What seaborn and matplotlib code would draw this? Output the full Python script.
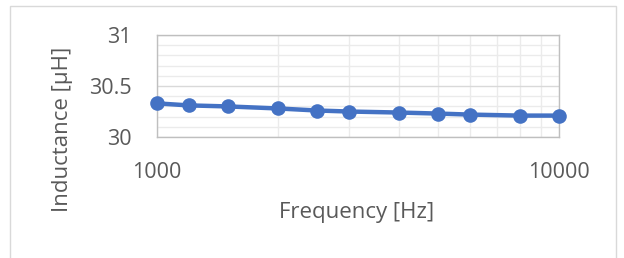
import numpy as np
import pandas as pd
import matplotlib
matplotlib.use("Agg")
import matplotlib.pyplot as plt
import seaborn as sns
from matplotlib.ticker import FixedLocator, NullFormatter
from matplotlib.patches import Rectangle

## Data
frequency = [1000, 1200, 1500, 2000, 2500, 3000, 4000, 5000, 6000, 8000, 10000]
inductance = [30.33, 30.31, 30.30, 30.28, 30.26, 30.25, 30.24, 30.23, 30.22, 30.21, 30.21]
x_ticks = [1000, 10000]
y_ticks = [30, 30.5, 31]

df = pd.DataFrame({"Frequency": frequency, "Inductance": inductance})

sns.set_style("white")
plt.rcParams['font.family'] = ['Open Sans', 'DejaVu Sans']
text_col = "#595959"

fig = plt.figure(figsize=(6.24, 2.58), dpi=100)
ax = fig.add_axes([0.2516, 0.469, 0.6442, 0.395])

sns.lineplot(data=df, x="Frequency", y="Inductance", ax=ax, color="#4472C4",
             linewidth=3.2, marker="o", markersize=10.5, markeredgewidth=0,
             zorder=5, clip_on=False)

ax.set_xscale("log")
ax.set_xlim(1000, 10000)
ax.set_ylim(30, 31)

ax.xaxis.set_major_locator(FixedLocator(x_ticks))
ax.xaxis.set_minor_locator(FixedLocator(np.arange(2000, 10000, 1000)))
ax.xaxis.set_minor_formatter(NullFormatter())
ax.set_xticklabels([str(t) for t in x_ticks])
ax.yaxis.set_major_locator(FixedLocator(y_ticks))
ax.yaxis.set_minor_locator(FixedLocator(np.arange(30.1, 31, 0.1)))
ax.set_yticklabels(["30", "30.5", "31"])

ax.grid(which="major", axis="y", color="#d9d9d9", linewidth=1.0)
ax.grid(which="minor", color="#ebebeb", linewidth=1.0)
ax.grid(which="major", axis="x", color="#ebebeb", linewidth=1.0)
ax.tick_params(axis="both", which="both", length=0, labelsize=15.5, labelcolor=text_col)
ax.tick_params(axis="x", pad=18)
ax.tick_params(axis="y", pad=18)

for s in ax.spines.values():
    s.set_color("#bfbfbf")
    s.set_linewidth(1.0)

ax.set_xlabel("Frequency [Hz]", fontsize=16, color=text_col, va="center")
ax.set_ylabel("Inductance [µH]", fontsize=16, color=text_col, va="center")
ax.xaxis.set_label_coords(0.4975, -0.745)
ax.yaxis.set_label_coords(-0.234, 0.078)

fig.patches.append(Rectangle((10 / 624, -0.05), 606 / 624, 1.027, transform=fig.transFigure,
                             fill=False, edgecolor="#d9d9d9", linewidth=1.0))

fig.savefig("out.png", dpi=100)
